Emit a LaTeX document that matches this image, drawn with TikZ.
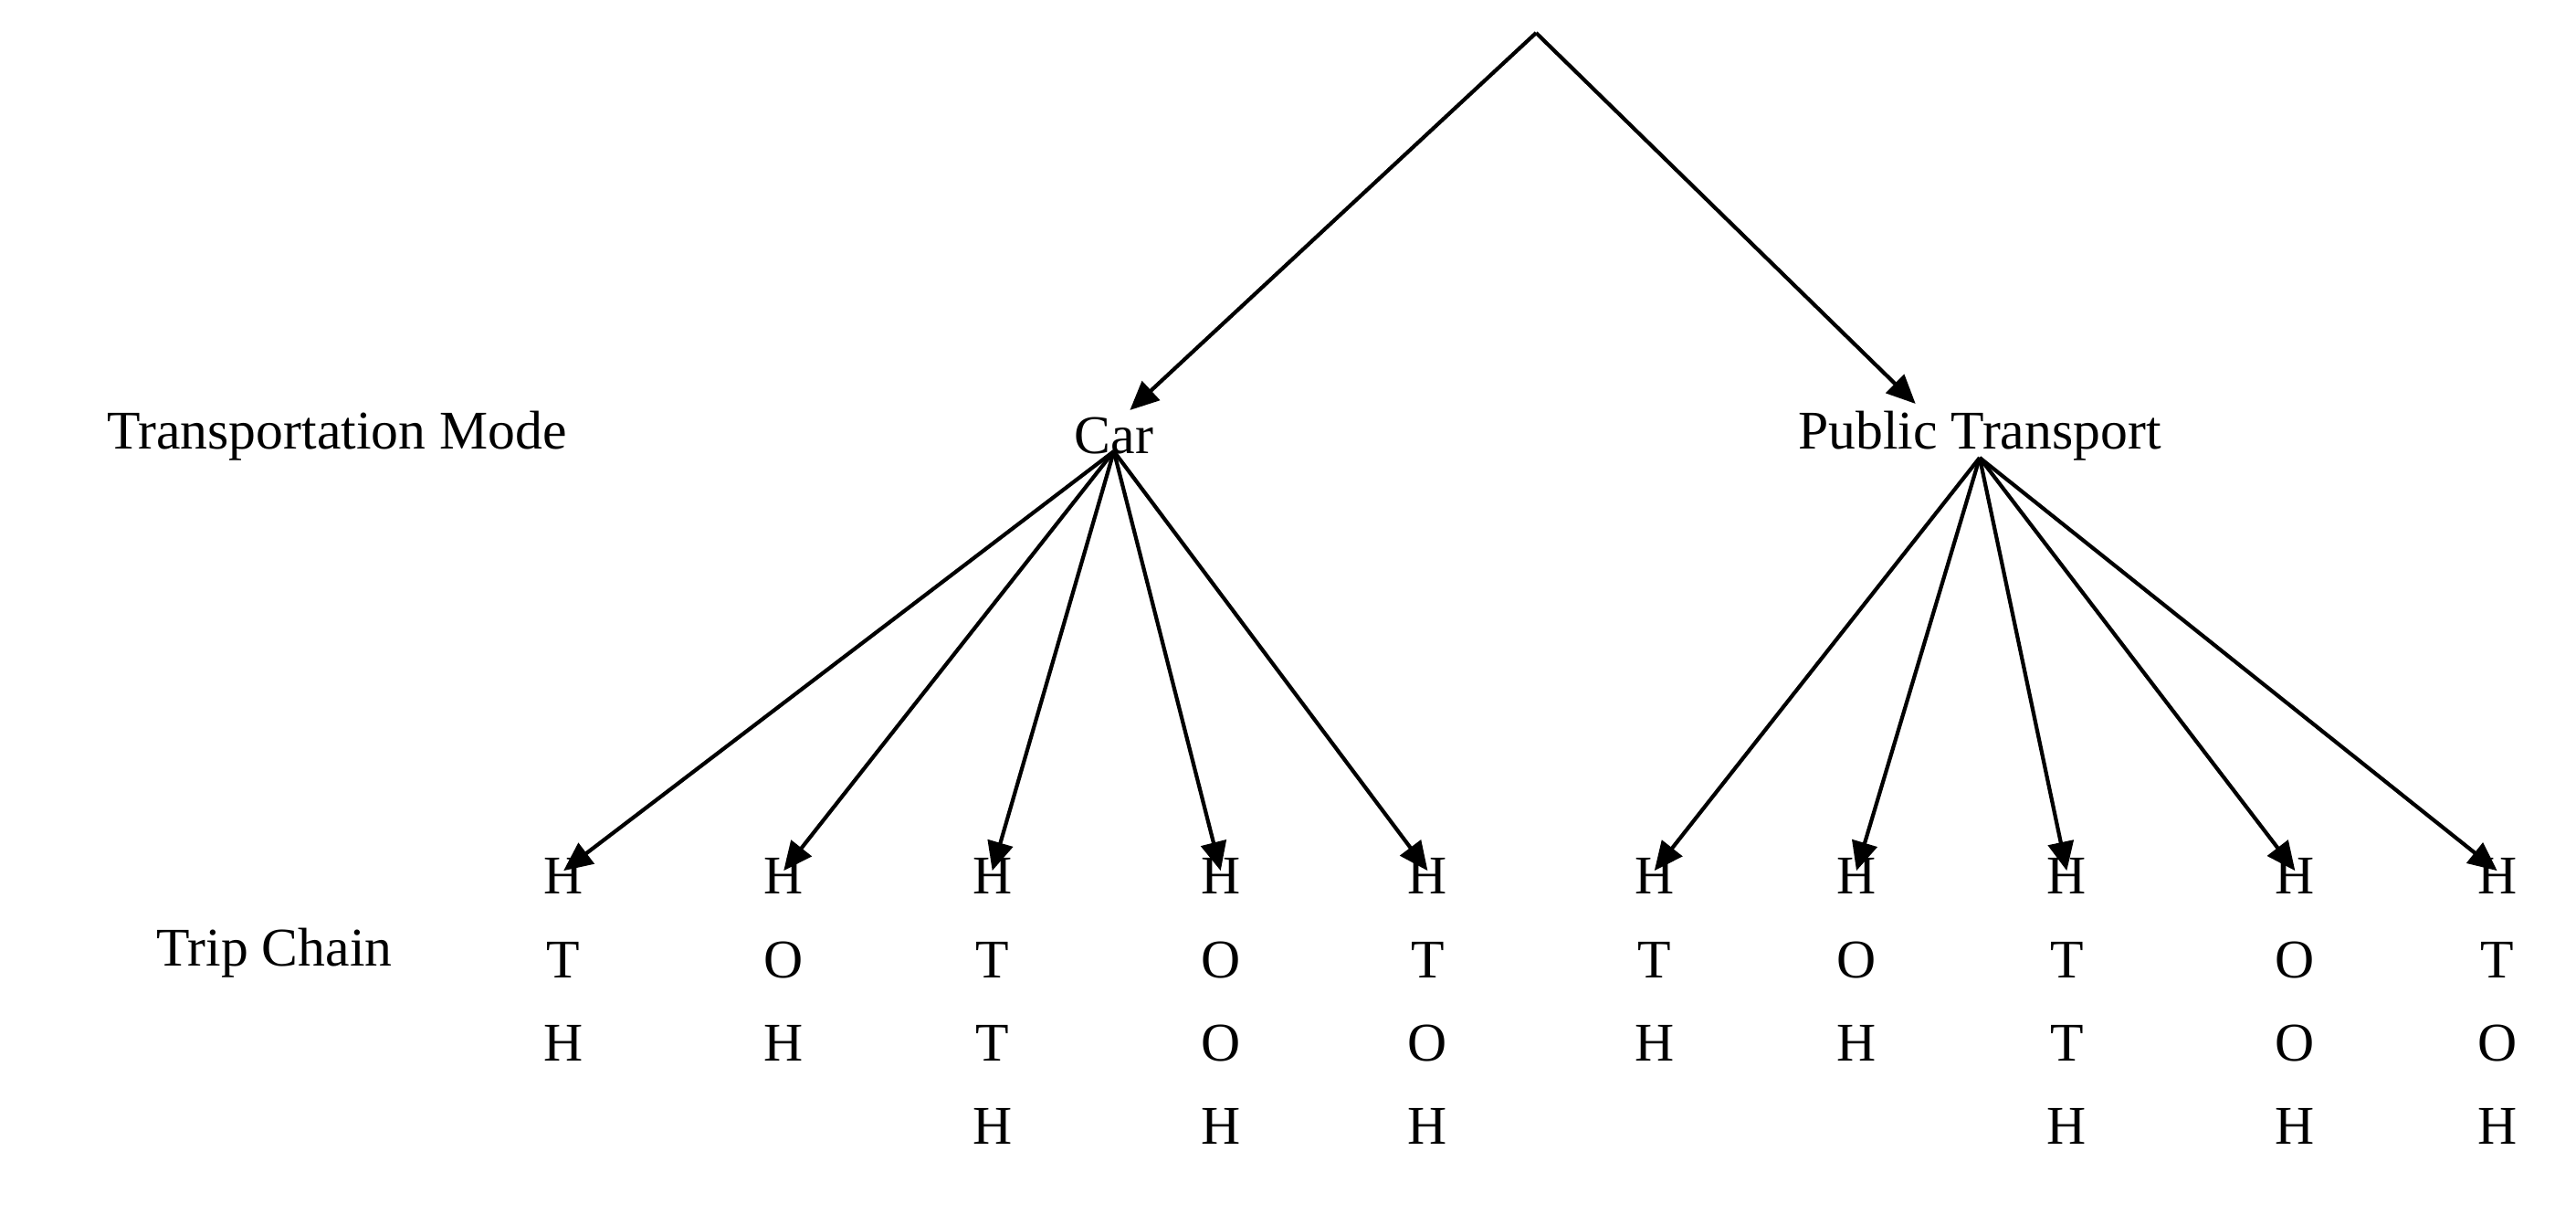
\documentclass[tikz,border=0pt]{standalone}
\usepackage{fontspec}
\setmainfont{Liberation Serif}
\usetikzlibrary{arrows.meta,positioning}
\tikzstyle{lbl}=[font=\fontsize{17}{26}\selectfont,inner sep=2pt]
\tikzstyle{chain}=[lbl,align=center,anchor=north,inner sep=0pt]
\tikzstyle{link}=[-{Stealth[length=9pt,width=8pt,inset=0pt]},line width=1.2pt]

\begin{document}
\begin{tikzpicture}[x=0.018cm, y=-0.018cm]
  \useasboundingbox (0,0) rectangle (1568,745);

  \coordinate (top) at (935,20);
  \node[lbl] (car) at (678,265) {Car};
  \node[lbl] (pt) at (1205,265) {Public Transport};
  \node[lbl] (mode) at (205,265) {Transportation Mode};
  \node[lbl] (trip) at (167,580) {Trip Chain};

  % trip chains
  \node[chain] (c1) at (343,522) {H\\T\\H};
  \node[chain] (c2) at (477,522) {H\\O\\H};
  \node[chain] (c3) at (604,522) {H\\T\\T\\H};
  \node[chain] (c4) at (743,522) {H\\O\\O\\H};
  \node[chain] (c5) at (869,522) {H\\T\\O\\H};
  \node[chain] (p1) at (1007,522) {H\\T\\H};
  \node[chain] (p2) at (1130,522) {H\\O\\H};
  \node[chain] (p3) at (1258,522) {H\\T\\T\\H};
  \node[chain] (p4) at (1397,522) {H\\O\\O\\H};
  \node[chain] (p5) at (1520,522) {H\\T\\O\\H};

  \draw[link] (top) -- ([xshift=5]car.north);
  \draw[link] (top) -- ([xshift=-20]pt.north);
  \foreach \n in {c1,c2,c3,c4,c5}
    \draw[link] ([yshift=3]car.south) -- ([yshift=-4]\n.north);
  \foreach \n in {p1,p2,p3,p4,p5}
    \draw[link] ([yshift=3]pt.south) -- ([yshift=-4]\n.north);
\end{tikzpicture}
\end{document}
